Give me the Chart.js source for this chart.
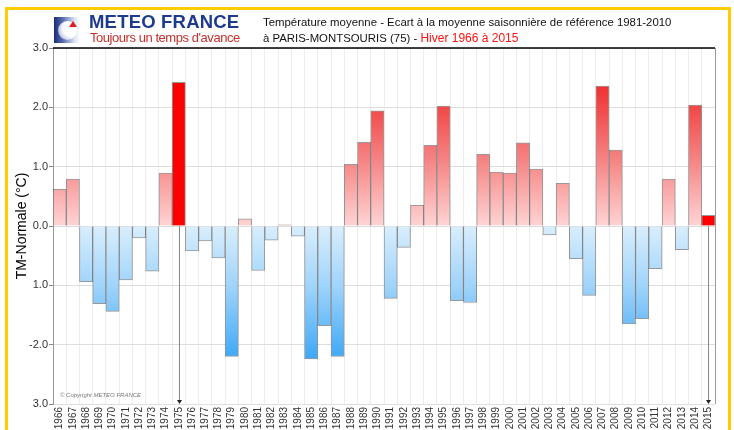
<!DOCTYPE html>
<html>
<head>
<meta charset="utf-8">
<script src="https://cdn.jsdelivr.net/npm/chart.js@4/dist/chart.umd.min.js"></script>
<style>
  body { margin: 0; width: 734px; height: 430px; overflow: hidden; background: #fff; position: relative;
         font-family: "Liberation Sans", Arial, sans-serif; }
  #chart { position: absolute; left: 0; top: 0; }
  #frame { position: absolute; left: 5px; top: 7px; width: 726px; height: 430px; box-sizing: border-box;
           border: 3px solid #ffcc00; border-bottom: none; pointer-events: none; }
  #logo { position: absolute; left: 54px; top: 17px; width: 26px; height: 26px;
          background: linear-gradient(90deg, #1a2c78 0%, #5a6fb4 35%, #dfe4f4 80%, #fff 100%); overflow: hidden; }
  #logo .disc { position: absolute; left: 4px; top: 4px; width: 19px; height: 19px; border-radius: 50%;
                background: radial-gradient(circle at 70% 40%, #fff 0%, #fff 45%, #c9d0ea 70%, #2a3c88 100%); }
  #logo .arrow { position: absolute; left: 15px; top: 4px; width: 0; height: 0;
                 border-left: 4px solid transparent; border-right: 4px solid transparent; border-bottom: 6px solid #e02020; }
  #brand { position: absolute; left: 89px; top: 11px; font-weight: bold; font-size: 18.5px; color: #1d3a8f; letter-spacing: 0.2px; }
  #motto { position: absolute; left: 90px; top: 30px; font-size: 13px; letter-spacing: -0.45px; color: #c4302b; }
  #title { position: absolute; left: 263px; top: 14px; font-size: 11.4px; line-height: 16px; color: #111; }
  #title .red { color: #ff1010; font-size: 12px; }
  #copy { position: absolute; left: 60px; top: 392px; font-size: 6px; font-style: italic; color: #777; }
</style>
</head>
<body>
<canvas id="chart" width="734" height="430"></canvas>
<div id="frame"></div>
<div id="logo"><div class="disc"></div><div class="arrow"></div></div>
<div id="brand">METEO FRANCE</div>
<div id="motto">Toujours un temps d'avance</div>
<div id="title">Température moyenne - Ecart à la moyenne saisonnière de référence 1981-2010<br>à PARIS-MONTSOURIS (75) - <span class="red">Hiver 1966 à 2015</span></div>
<div id="copy">© Copyright METEO FRANCE</div>
<script>
const years = [
  '1966', '1967', '1968', '1969', '1970', '1971', '1972', '1973', '1974', '1975',
  '1976', '1977', '1978', '1979', '1980', '1981', '1982', '1983', '1984', '1985',
  '1986', '1987', '1988', '1989', '1990', '1991', '1992', '1993', '1994', '1995',
  '1996', '1997', '1998', '1999', '2000', '2001', '2002', '2003', '2004', '2005',
  '2006', '2007', '2008', '2009', '2010', '2011', '2012', '2013', '2014', '2015',
];

const anomalies = [
  0.62, 0.79, -0.94, -1.31, -1.44, -0.91, -0.20, -0.76, 0.89, 2.42,
  -0.42, -0.25, -0.54, -2.20, 0.12, -0.75, -0.24, 0.02, -0.17, -2.24,
  -1.68, -2.20, 1.04, 1.41, 1.94, -1.22, -0.36, 0.35, 1.36, 2.02,
  -1.26, -1.29, 1.21, 0.91, 0.89, 1.40, 0.96, -0.15, 0.72, -0.55,
  -1.17, 2.36, 1.28, -1.65, -1.56, -0.72, 0.79, -0.40, 2.04, 0.18,
];

const highlightYears = ['1975', '2015'];

const yTickValues = [3, 2, 1, 0, -1, -2, -3];
const yTickLabels = ['3.0', '2.0', '1.0', '0.0', '1.0', '-2.0', '3.0'];

const gradientCache = {};

function barGradient(chart, positive) {
  const { ctx, chartArea, scales } = chart;
  const key = (positive ? 'p' : 'n') + chartArea.top + '_' + chartArea.bottom;
  if (gradientCache[key]) {
    return gradientCache[key];
  }
  const y0 = scales.y.getPixelForValue(0);
  const y1 = scales.y.getPixelForValue(positive ? 2.4 : -2.3);
  const grad = ctx.createLinearGradient(0, y0, 0, y1);
  if (positive) {
    grad.addColorStop(0, '#ffd4d4');
    grad.addColorStop(0.45, '#f68686');
    grad.addColorStop(1, '#f02e2e');
  } else {
    grad.addColorStop(0, '#d9eefd');
    grad.addColorStop(0.45, '#9ed3fb');
    grad.addColorStop(1, '#38a6f6');
  }
  gradientCache[key] = grad;
  return grad;
}

const frameLines = {
  id: 'frameLines',
  afterDatasetsDraw(chart) {
    const { ctx, chartArea, scales } = chart;
    ctx.save();

    // arrows under the highlighted winters
    highlightYears.forEach((year) => {
      const i = years.indexOf(year);
      const x = Math.round(scales.x.getPixelForValue(i)) + 0.5;
      const yTop = scales.y.getPixelForValue(0);
      const yBot = chartArea.bottom;
      ctx.strokeStyle = '#8a8a8a';
      ctx.lineWidth = 1;
      ctx.beginPath();
      ctx.moveTo(x, yTop);
      ctx.lineTo(x, yBot - 2);
      ctx.stroke();
      ctx.fillStyle = '#222';
      ctx.beginPath();
      ctx.moveTo(x - 2.5, yBot - 4);
      ctx.lineTo(x + 2.5, yBot - 4);
      ctx.lineTo(x, yBot);
      ctx.closePath();
      ctx.fill();
    });

    // top border and right edge
    ctx.strokeStyle = '#000';
    ctx.lineWidth = 1.5;
    ctx.beginPath();
    ctx.moveTo(chartArea.left, chartArea.top);
    ctx.lineTo(chartArea.right, chartArea.top);
    ctx.stroke();
    ctx.strokeStyle = '#9a9a9a';
    ctx.lineWidth = 1;
    ctx.beginPath();
    ctx.moveTo(chartArea.right + 0.5, chartArea.top);
    ctx.lineTo(chartArea.right + 0.5, chartArea.bottom);
    ctx.stroke();
    ctx.restore();
  },
};

new Chart(document.getElementById('chart').getContext('2d'), {
  type: 'bar',
  data: {
    labels: years,
    datasets: [
      {
        label: 'TM-Normale',
        data: anomalies,
        backgroundColor: (c) => {
          if (!c.chart.chartArea) {
            return '#ccc';
          }
          if (highlightYears.includes(years[c.dataIndex])) {
            return '#ff0000';
          }
          return barGradient(c.chart, anomalies[c.dataIndex] >= 0);
        },
        borderColor: 'rgba(70, 70, 70, 0.55)',
        borderWidth: 1,
        borderSkipped: 'start',
        barPercentage: 1,
        categoryPercentage: 1,
      },
    ],
  },
  options: {
    responsive: false,
    animation: false,
    layout: { padding: { top: 48, right: 19, left: 0, bottom: 0 } },
    plugins: {
      legend: { display: false },
      tooltip: { enabled: false },
    },
    scales: {
      x: {
        offset: true,
        afterFit: (scale) => { scale.height = 26; },
        grid: { offset: true, color: '#ededed', drawTicks: false },
        border: { display: false },
        ticks: {
          autoSkip: false,
          minRotation: 90,
          maxRotation: 90,
          padding: 3,
          color: '#333',
          font: { family: 'Liberation Sans', size: 10 },
        },
      },
      y: {
        min: -3,
        max: 3,
        afterFit: (scale) => { scale.width = 53; },
        afterBuildTicks: (scale) => {
          scale.ticks = yTickValues.map((v) => ({ value: v }));
        },
        border: { color: '#999' },
        grid: { color: '#dddddd', tickLength: 4, tickColor: '#888' },
        ticks: {
          padding: 1,
          color: '#333',
          font: { family: 'Liberation Sans', size: 11 },
          callback: (value) => yTickLabels[yTickValues.indexOf(value)],
        },
        title: {
          display: true,
          text: 'TM-Normale (°C)',
          color: '#000',
          padding: { top: 14, bottom: 0 },
          font: { family: 'Liberation Sans', size: 14 },
        },
      },
    },
  },
  plugins: [frameLines],
});
</script>
</body>
</html>
